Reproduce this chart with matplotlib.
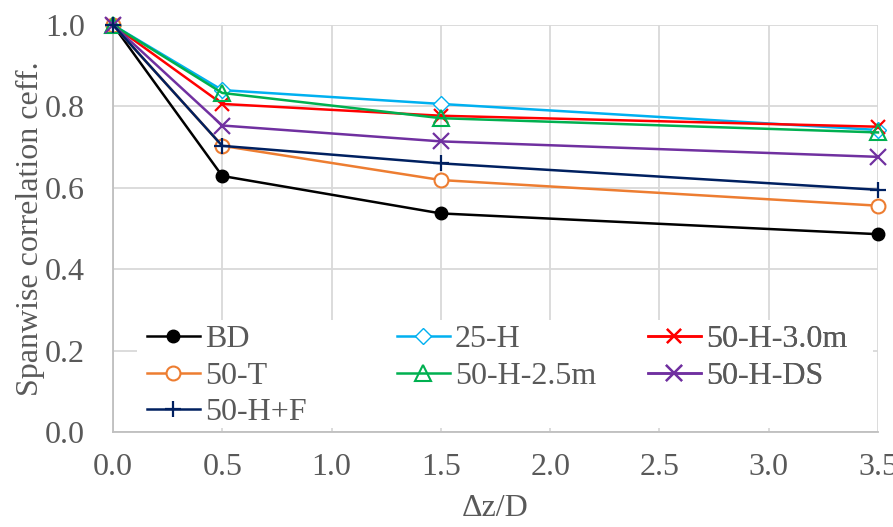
import matplotlib
matplotlib.use("Agg")
import matplotlib.pyplot as plt
from matplotlib.patches import Rectangle

plt.rcParams['font.family'] = ['Liberation Serif', 'DejaVu Serif']

dz = [0.0, 0.5, 1.5, 3.5]

bd = [1.0, 0.629, 0.537, 0.486]
h25 = [1.0, 0.840, 0.806, 0.742]
h50_30m = [1.0, 0.806, 0.777, 0.750]
t50 = [1.0, 0.703, 0.619, 0.556]
h50_25m = [1.0, 0.833, 0.771, 0.736]
h50_ds = [1.0, 0.753, 0.714, 0.676]
h50_f = [1.0, 0.703, 0.660, 0.595]

x_ticks = [0.0, 0.5, 1.0, 1.5, 2.0, 2.5, 3.0, 3.5]
y_ticks = [0.0, 0.2, 0.4, 0.6, 0.8, 1.0]

text_color = '#595959'
fs = 23

fig = plt.figure(figsize=(8.93, 5.27), dpi=100)
ax = fig.add_axes([0.1265, 0.1803, 0.8567, 0.7723])

series = [
    ('BD', bd, dict(color='black', marker='o', mfc='black', ms=9)),
    ('25-H', h25, dict(color='#00B0F0', marker='D', mfc='white', ms=8)),
    ('50-H-3.0m', h50_30m, dict(color='#FF0000', marker='x', ms=10, mew=1.6)),
    ('50-T', t50, dict(color='#ED7D31', marker='o', mfc='white', ms=10, mew=1.5)),
    ('50-H-2.5m', h50_25m, dict(color='#00B050', marker='^', mfc='none', ms=11, mew=1.5)),
    ('50-H-DS', h50_ds, dict(color='#7030A0', marker='x', ms=11, mew=1.6)),
    ('50-H+F', h50_f, dict(color='#002060', marker='+', ms=12, mew=1.6)),
]

handles = {}
for name, vals, style in series:
    ln, = ax.plot(dz, vals, lw=1.8, clip_on=False, zorder=3, label=name, **style)
    handles[name] = ln

ax.set_xlim(0, 3.5)
ax.set_ylim(0, 1.0)
ax.set_xticks(x_ticks)
ax.set_yticks(y_ticks)
ax.set_xticklabels([f'{v:.1f}' for v in x_ticks])
ax.set_yticklabels([f'{v:.1f}' for v in y_ticks])
ax.tick_params(axis='both', length=0, labelsize=fs, colors=text_color)
ax.tick_params(axis='y', pad=20)
ax.tick_params(axis='x', pad=15)
ax.grid(True, color='#D9D9D9', lw=1.3, zorder=0)
ax.set_axisbelow(True)
for side in ['top', 'right']:
    ax.spines[side].set_visible(False)
for side in ['left', 'bottom']:
    ax.spines[side].set_color('#BFBFBF')
    ax.spines[side].set_linewidth(1.3)

ax.set_xlabel('Δz/D', fontsize=fs, color=text_color, labelpad=9)
ax.set_ylabel('Spanwise correlation ceff.', fontsize=fs, color=text_color, labelpad=0)

# white panel behind the legend columns
ax.add_patch(Rectangle((0.031, 0.01), 0.962, 0.265, transform=ax.transAxes,
                       facecolor='white', edgecolor='none', zorder=4))

columns = [
    (['BD', '50-T', '50-H+F'], 0.0444),
    (['25-H', '50-H-2.5m'], 0.371),
    (['50-H-3.0m', '50-H-DS'], 0.699),
]
for names, x0 in columns:
    leg = ax.legend([handles[n] for n in names], names, loc='upper left',
                    bbox_to_anchor=(x0, 0.263), frameon=False, fontsize=fs,
                    handlelength=1.66, handletextpad=0.16, labelspacing=0.22,
                    borderaxespad=0, borderpad=0, labelcolor=text_color)
    leg.set_zorder(5)
    ax.add_artist(leg)

fig.savefig('out.png', dpi=100)
